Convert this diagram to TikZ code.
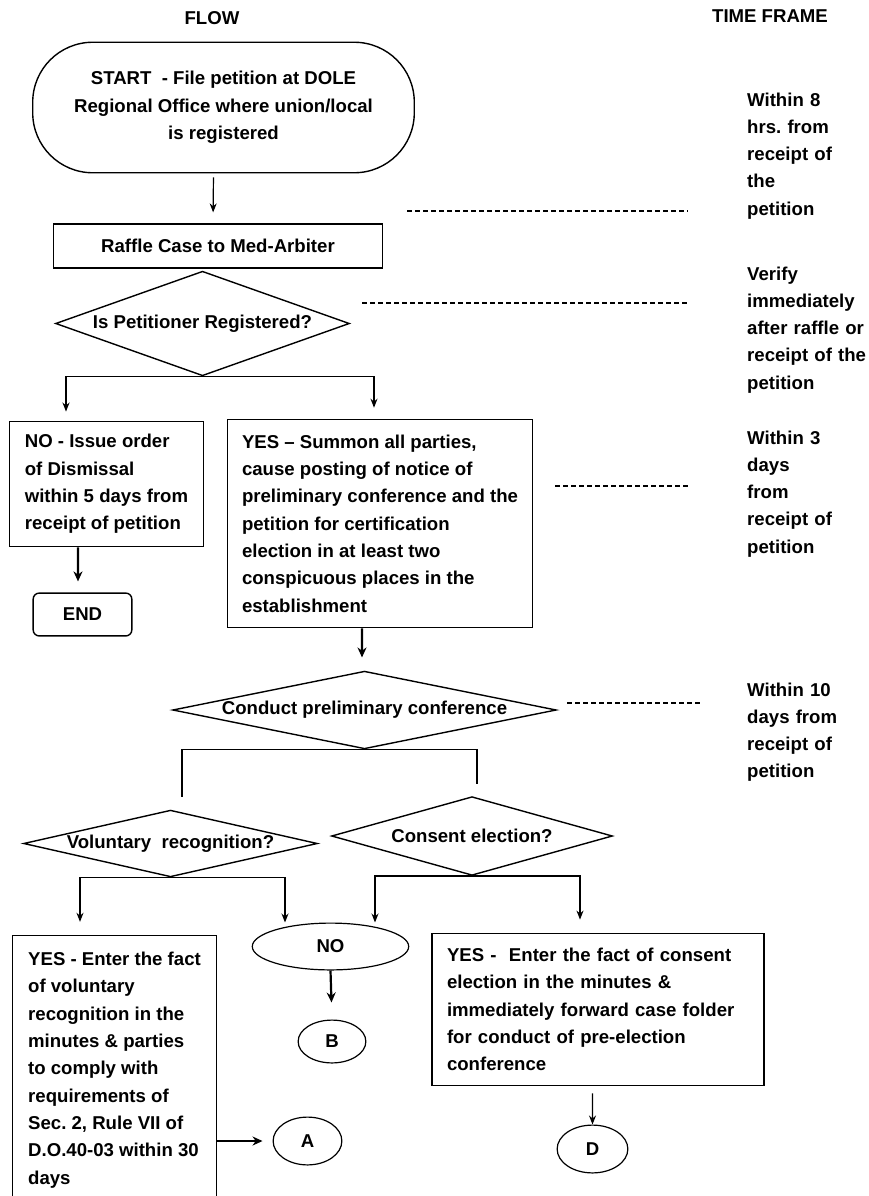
\documentclass[tikz,border=0pt]{standalone}
\usepackage{fontspec}
\setmainfont{Liberation Sans}
\usetikzlibrary{shapes.geometric,arrows.meta}
\frenchspacing

\begin{document}
\begin{tikzpicture}[x=1bp,y=-1bp,
    every node/.style={font=\fontsize{18.6bp}{27.3bp}\selectfont\bfseries},
    box/.style={draw, line width=1.4bp, align=left, inner sep=0pt},
    dia/.style={draw, diamond, line width=1.4bp, inner sep=0pt},
    oval/.style={draw, ellipse, line width=1.2bp, inner sep=0pt},
    link/.style={line width=1.2bp},
    arr/.style={line width=1.2bp, -{Stealth[length=9bp,width=7bp]}},
    arrT/.style={line width=2.2bp, -{Stealth[length=10bp,width=9bp]}},
    tline/.style={line width=1.3bp, dash pattern=on 5bp off 3bp},
    tf/.style={text width=130bp, align=left, anchor=base west, inner sep=0pt}]
    \useasboundingbox (0,0) rectangle (869,1196);

    \node (flow) at (212,18) {FLOW};
    \node (tframe) at (770,16) {TIME FRAME};

    \node[box, rounded corners=60bp, align=center, minimum width=383, minimum height=131] (start) at (223.5,107.5) {START\ \ - File petition at DOLE\\Regional Office where union/local\\is registered};
    \node[box, align=center, minimum width=330, minimum height=44] (raffle) at (218,246) {Raffle Case to Med-Arbiter};
    \node[dia, minimum width=295, minimum height=105] (reg) at (202.5,323.5) {\makebox[0pt]{Is Petitioner Registered?}};

    \node[box, minimum width=195, minimum height=126] (no) at (106.5,484) {NO - Issue order\\of Dismissal\\within 5 days from\\receipt of petition};
    \node[box, rounded corners=6bp, align=center, minimum width=99, minimum height=43] (fin) at (82.5,614.5) {END};
    \node[box, minimum width=306, minimum height=209] (yes) at (380,523.5) {YES – Summon all parties,\\cause posting of notice of\\preliminary conference and the\\petition for certification\\election in at least two\\conspicuous places in the\\establishment};

    \node[dia, minimum width=385, minimum height=78] (conf) at (364.5,710) {\makebox[0pt]{Conduct preliminary conference}};
    \node[dia, minimum width=295, minimum height=67] (vol) at (170.5,843.5) {\makebox[0pt]{Voluntary\ \ recognition?}};
    \node[dia, minimum width=282, minimum height=79] (cons) at (472,836) {\makebox[0pt]{Consent election?}};

    \node[oval, minimum width=157, minimum height=47] (nob) at (330.5,946.5) {NO};
    \node[oval, minimum width=68, minimum height=43] (B) at (332,1041.5) {B};
    \node[box, minimum width=205, minimum height=270] (yesv) at (114.5,1070) {YES - Enter the fact\\of voluntary\\recognition in the\\minutes \& parties\\to comply with\\requirements of\\Sec. 2, Rule VII of\\D.O.40-03 within 30\\days};
    \node[oval, minimum width=69, minimum height=48] (A) at (307.5,1141) {A};
    \node[box, text width=302bp, inner xsep=15bp, minimum height=153] (yesc) at (598,1009.5) {YES -\ \ Enter the fact of consent\\election in the minutes \&\\immediately forward case folder\\for conduct of pre-election\\conference};
    \node[oval, minimum width=71, minimum height=48] (D) at (592.5,1149) {D};

    % time frame column
    \node[tf] (tf1) at (747,106) {Within 8\\hrs. from\\receipt of\\the\\petition};
    \node[tf] (tf2) at (747,280) {Verify\\immediately\\after raffle or\\receipt of the\\petition};
    \node[tf] (tf3) at (747,444) {Within 3\\days\\from\\receipt of\\petition};
    \node[tf] (tf4) at (747,696) {Within 10\\days from\\receipt of\\petition};

    \draw[tline] (407,211) -- (688,211);
    \draw[tline] (362,303) -- (688,303);
    \draw[tline] (555,486) -- (688,486);
    \draw[tline] (567,703) -- (700,703);

    % flow connectors
    \draw[arr, shorten <=4bp, shorten >=11bp] ([xshift=-10bp]start.south) -- ([xshift=-5bp]raffle.north);
    \draw[arr] (reg.south) -| ([xshift=-40.5bp, yshift=9bp]no.north);
    \draw[arr] (reg.south) -| ([xshift=-6bp, yshift=11bp]yes.north);
    \draw[arrT] ([xshift=-28.5bp]no.south) -- ([xshift=-4.5bp, yshift=11bp]fin.north);
    \draw[arrT] ([xshift=-18bp]yes.south) -- ([xshift=-2.5bp, yshift=13bp]conf.north);

    \draw[link] (conf.south) -| ([xshift=11.5bp, yshift=12bp]vol.north);
    \draw[link] (conf.south) -| ([xshift=5bp, yshift=11.5bp]cons.north);

    \draw[arr] (vol.south) -| ([xshift=-34.5bp, yshift=13bp]yesv.north);
    \draw[arr] (vol.south) -| ([xshift=-45.5bp]nob.north);
    \draw[arr] (cons.south) -| ([xshift=44.5bp]nob.north);
    \draw[arr] (cons.south) -| ([xshift=-18bp, yshift=13bp]yesc.north);

    \draw[arrT, shorten >=17bp] (nob.south) -- (B.north);
    \draw[arrT, shorten >=10bp] (yesv.east |- A.west) -- (A.west);
    \draw[arr] ([xshift=-5.5bp, yshift=-7bp]yesc.south) -- (D.north);
\end{tikzpicture}
\end{document}
